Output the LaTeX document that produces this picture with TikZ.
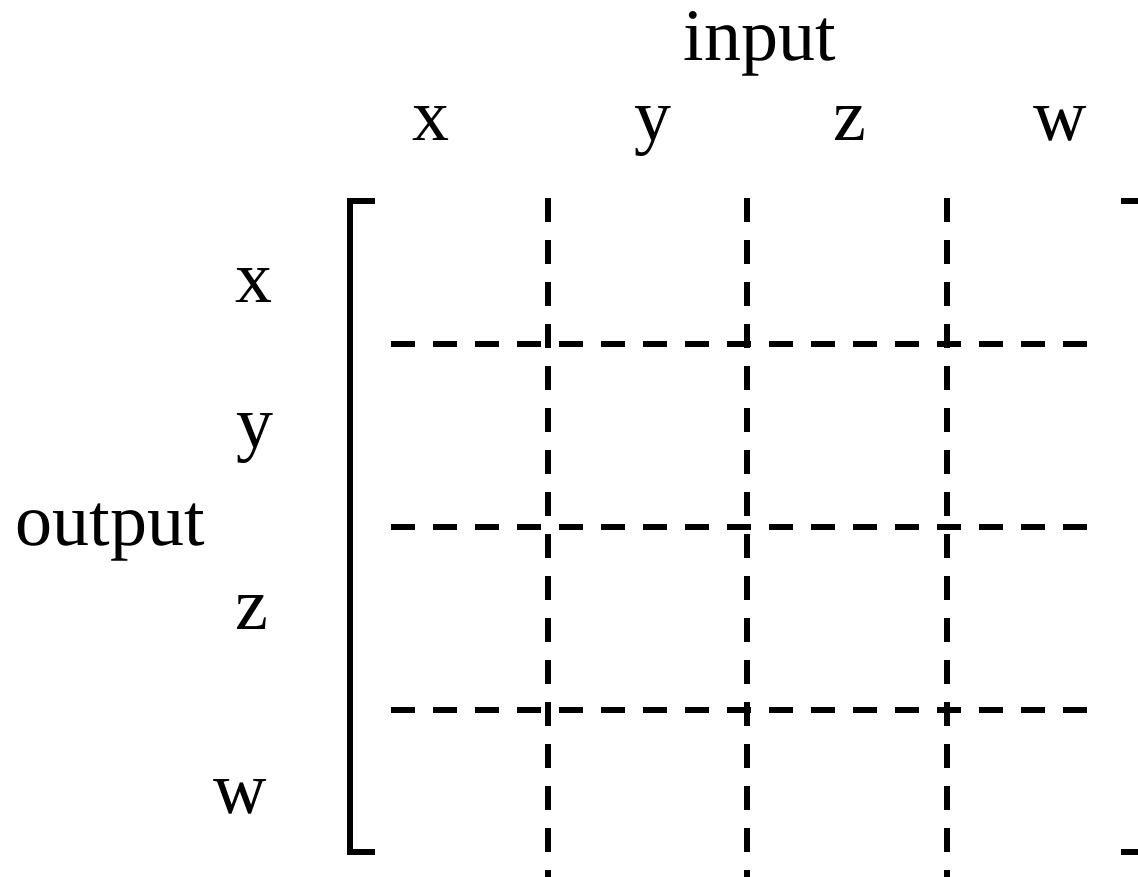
\documentclass[tikz,border=0pt]{standalone}
\usepackage{fontspec}
\setmainfont{Liberation Serif}
\begin{document}
\begin{tikzpicture}[x=1pt,y=-1pt,
  lbl/.style={inner sep=0pt,anchor=base,font=\fontsize{74}{80}\selectfont},
  grid/.style={line width=6pt,dash pattern=on 24pt off 18pt},
  brk/.style={line width=6pt}]
\clip (0,0) rectangle (1138,877);
% labels
\node[lbl] (input) at (760,61) {input};
\node[lbl] (ix) at (431,141) {x};
\node[lbl] (iy) at (653,141) {y};
\node[lbl] (iz) at (850,141) {z};
\node[lbl] (iw) at (1060,141) {w};
\node[lbl] (output) at (110,545) {output};
\node[lbl] (ox) at (254,303) {x};
\node[lbl] (oy) at (255,447) {y};
\node[lbl] (oz) at (252,629) {z};
\node[lbl] (ow) at (240,813) {w};
% brackets
\draw[brk] (375,201) -- (350,201) -- (350,852) -- (375,852);
\draw[brk] (1121,201) -- (1144,201) -- (1144,852) -- (1121,852);
% dashed grid
\foreach \gx in {548,747,947}
  \draw[grid] (\gx,198) -- (\gx,900);
\foreach \gy in {344,527,710}
  \draw[grid] (391,\gy) -- (1087,\gy);
\end{tikzpicture}
\end{document}
